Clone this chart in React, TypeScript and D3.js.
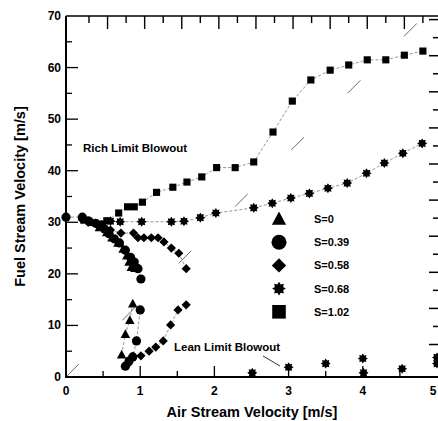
import React from "react";
import * as d3 from "d3";

const W = 438;
const H = 421;

// ---- data (air velocity [m/s], fuel velocity [m/s]) ----
const s0Rich: [number, number][] = [
  [0.25, 30.5], [0.35, 30.0], [0.45, 29.0], [0.55, 28.0], [0.62, 27.0],
  [0.7, 26.0], [0.77, 24.8], [0.82, 23.5], [0.85, 22.3], [0.88, 21.3], [0.93, 21.1],
];
const s0Lean: [number, number][] = [
  [0.75, 4.3], [0.8, 8.3], [0.86, 11.0], [0.9, 14.2],
];
const s039Rich: [number, number][] = [
  [0.0, 31.0], [0.22, 31.0], [0.3, 30.3], [0.4, 29.8], [0.48, 29.5], [0.52, 28.7],
  [0.58, 27.8], [0.65, 26.8], [0.72, 26.0], [0.8, 24.6], [0.87, 23.2], [0.92, 22.3],
  [0.97, 21.0], [1.01, 19.0],
];
const s039Lean: [number, number][] = [
  [0.8, 2.1], [0.85, 3.1], [0.9, 3.9], [0.95, 7.0], [1.0, 13.0],
];
const s058Rich: [number, number][] = [
  [0.22, 30.5], [0.3, 30.0], [0.42, 29.5], [0.5, 29.0], [0.6, 28.5], [0.74, 27.9],
  [0.91, 27.9], [0.97, 27.0], [1.05, 27.0], [1.15, 27.0], [1.24, 27.0], [1.32, 26.2],
  [1.42, 25.0], [1.52, 24.0], [1.62, 21.0],
];
const s058Lean: [number, number][] = [
  [0.82, 2.3], [0.9, 4.0], [1.01, 4.1], [1.12, 5.0], [1.21, 5.8], [1.31, 7.0],
  [1.41, 10.1], [1.51, 13.0], [1.62, 14.0],
];
const s068Rich: [number, number][] = [
  [0.6, 30.2], [0.73, 30.1], [1.02, 30.1], [1.42, 30.1], [1.59, 30.2], [1.81, 30.9],
  [2.02, 31.8], [2.53, 32.8], [2.78, 33.7], [3.03, 34.7], [3.28, 35.6], [3.53, 36.6],
  [3.79, 37.6], [4.05, 39.5], [4.29, 41.5], [4.54, 43.4], [4.8, 45.3],
];
const s068Lean: [number, number][] = [
  [2.51, 0.8], [3.0, 1.9], [3.5, 2.6], [4.0, 3.6], [4.01, 0.8], [4.53, 1.6],
  [5.0, 3.8], [5.0, 2.6],
];
const s102Rich: [number, number][] = [
  [0.55, 30.3], [0.71, 31.8], [0.83, 33.0], [0.92, 33.0], [1.03, 33.9], [1.22, 35.8],
  [1.44, 36.8], [1.63, 37.8], [1.83, 38.8], [2.03, 40.6], [2.28, 40.6], [2.53, 41.7],
  [2.79, 47.5], [3.05, 53.5], [3.3, 57.6], [3.56, 59.5], [3.81, 60.5], [4.06, 61.5],
  [4.31, 61.5], [4.56, 62.4], [4.81, 63.2],
];

const legendLabels = ["S=0", "S=0.39", "S=0.58", "S=0.68", "S=1.02"];
const shapes = ["triangle", "circle", "diamond", "star", "square"];
const xTicks = [0, 1, 2, 3, 4, 5];
const yTicks = [0, 10, 20, 30, 40, 50, 60, 70];
const refSlope = 14.5; // dashed reference line through the origin

// ---- layout ----
const X0 = 66, X1 = 437, Y0 = 377, Y1 = 16;
const x = d3.scaleLinear().domain([0, 5]).range([X0, X1]);
const y = d3.scaleLinear().domain([0, 70]).range([Y0, Y1]);
const xTop = d3.scaleLinear().domain([-0.06, 4.94]).range([X0, X1]);
const yRight = d3.scaleLinear().domain([-0.8, 19.2]).range([Y0, Y1]);

const FONT = "'Liberation Sans', Arial, Helvetica, sans-serif";

function markerPath(shape: string, r: number): string {
  switch (shape) {
    case "triangle":
      return `M0,${-r}L${r * 0.95},${r * 0.75}L${-r * 0.95},${r * 0.75}Z`;
    case "circle":
      return d3.symbol(d3.symbolCircle, Math.PI * r * r)()!;
    case "diamond":
      return `M0,${-r}L${r},0L0,${r}L${-r},0Z`;
    case "star": {
      const pts: string[] = [];
      for (let i = 0; i < 16; i++) {
        const a = (Math.PI / 8) * i - Math.PI / 2;
        const rr = i % 2 === 0 ? r : r * 0.66;
        pts.push(`${(rr * Math.cos(a)).toFixed(2)},${(rr * Math.sin(a)).toFixed(2)}`);
      }
      return "M" + pts.join("L") + "Z";
    }
    default: {
      const s = r * 0.85;
      return `M${-s},${-s}L${s},${-s}L${s},${s}L${-s},${s}Z`;
    }
  }
}

const line = d3
  .line<[number, number]>()
  .x((d) => x(d[0]))
  .y((d) => y(d[1]));

const series: { shape: string; pts: [number, number][]; connect: boolean }[] = [
  { shape: "star", pts: s068Rich, connect: true },
  { shape: "square", pts: s102Rich, connect: true },
  { shape: "diamond", pts: s058Rich, connect: true },
  { shape: "diamond", pts: s058Lean, connect: true },
  { shape: "circle", pts: s039Rich, connect: true },
  { shape: "circle", pts: s039Lean, connect: true },
  { shape: "triangle", pts: s0Rich, connect: true },
  { shape: "triangle", pts: s0Lean, connect: true },
  { shape: "star", pts: s068Lean, connect: false },
];

export default function App() {
  const plotR: Record<string, number> = { triangle: 5.0, circle: 4.6, diamond: 4.6, star: 5.0, square: 4.2 };
  const legR: Record<string, number> = { triangle: 7.5, circle: 7.5, diamond: 7.2, star: 6.8, square: 8.0 };
  return (
    <svg
      width={W}
      height={H}
      style={{ position: "absolute", left: 0, top: 0, background: "#fff" }}
      fontFamily={FONT}
    >
      <rect width={W} height={H} fill="#fff" />
      {/* reference line */}
      <line
        x1={x(0)}
        y1={y(0)}
        x2={x(70 / refSlope)}
        y2={y(70)}
        stroke="#444"
        strokeWidth={0.8}
        strokeDasharray="18 62"
      />
      {/* connecting lines */}
      {series
        .filter((s) => s.connect)
        .map((s, i) => (
          <path key={"l" + i} d={line(s.pts)!} fill="none" stroke="#666" strokeWidth={0.7} strokeDasharray="3 2" />
        ))}
      {/* markers */}
      {series.map((s, i) =>
        s.pts.map((p, j) => (
          <path
            key={`m${i}-${j}`}
            d={markerPath(s.shape, plotR[s.shape])}
            transform={`translate(${x(p[0])},${y(p[1])})`}
            fill="#000"
          />
        ))
      )}
      {/* axes frame */}
      <line x1={X0} y1={Y0} x2={X1 + 1} y2={Y0} stroke="#000" strokeWidth={2} />
      <line x1={X0} y1={Y0 + 1} x2={X0} y2={Y1} stroke="#000" strokeWidth={2} />
      <line x1={X0} y1={Y1} x2={W} y2={Y1} stroke="#000" strokeWidth={1.5} />
      {/* bottom ticks */}
      {d3.range(0.5, 5, 0.5).map((t) => (
        <line key={"bt" + t} x1={x(t)} x2={x(t)} y1={Y0} y2={Y0 - (t % 1 === 0 ? 11 : 6)} stroke="#000" strokeWidth={1.3} />
      ))}
      {/* left ticks */}
      {d3.range(5, 70, 5).map((t) => (
        <line key={"lt" + t} x1={X0} x2={X0 + (t % 10 === 0 ? 12 : 6)} y1={y(t)} y2={y(t)} stroke="#000" strokeWidth={1.3} />
      ))}
      {/* top ticks */}
      {d3.range(1, 20).map((k) => (
        <line
          key={"tt" + k}
          x1={xTop(k * 0.25)}
          x2={xTop(k * 0.25)}
          y1={Y1}
          y2={Y1 + (k % 2 === 0 ? 13 : 7)}
          stroke="#000"
          strokeWidth={1.4}
        />
      ))}
      {/* right ticks */}
      {d3.range(1, 20).map((k) => (
        <line
          key={"rt" + k}
          x1={W}
          x2={W - (k % 2 === 1 ? 9 : 5)}
          y1={yRight(k)}
          y2={yRight(k)}
          stroke="#000"
          strokeWidth={1.5}
        />
      ))}
      {/* tick labels */}
      {xTicks.map((t) => (
        <text key={"xl" + t} x={Math.min(x(t), 433)} y={395} textAnchor="middle" fontSize={12} fontWeight="bold">
          {t}
        </text>
      ))}
      {yTicks.map((t) => (
        <text key={"yl" + t} x={61} y={y(t) + 4} textAnchor="end" fontSize={12} fontWeight="bold">
          {t}
        </text>
      ))}
      {/* axis titles */}
      <text x={252} y={417} textAnchor="middle" fontSize={14.5} fontWeight="bold">
        Air Stream Velocity [m/s]
      </text>
      <text
        transform={`translate(25,${(Y0 + Y1) / 2}) rotate(-90)`}
        textAnchor="middle"
        fontSize={14.5}
        fontWeight="bold"
      >
        Fuel Stream Velocity [m/s]
      </text>
      {/* annotations */}
      <text x={83} y={152} fontSize={11.5} fontWeight="bold">
        Rich Limit Blowout
      </text>
      <text x={174} y={351} fontSize={11.5} fontWeight="bold">
        Lean Limit Blowout
      </text>
      <line x1={263} y1={356} x2={280} y2={366} stroke="#000" strokeWidth={0.8} />
      {/* legend */}
      {legendLabels.map((lab, i) => (
        <g key={"lg" + i} transform={`translate(0,${219 + i * 23.2})`}>
          <path d={markerPath(shapes[i], legR[shapes[i]])} transform="translate(279,0)" fill="#000" />
          <text x={314} y={4} fontSize={11} fontWeight="bold">
            {lab}
          </text>
        </g>
      ))}
    </svg>
  );
}
